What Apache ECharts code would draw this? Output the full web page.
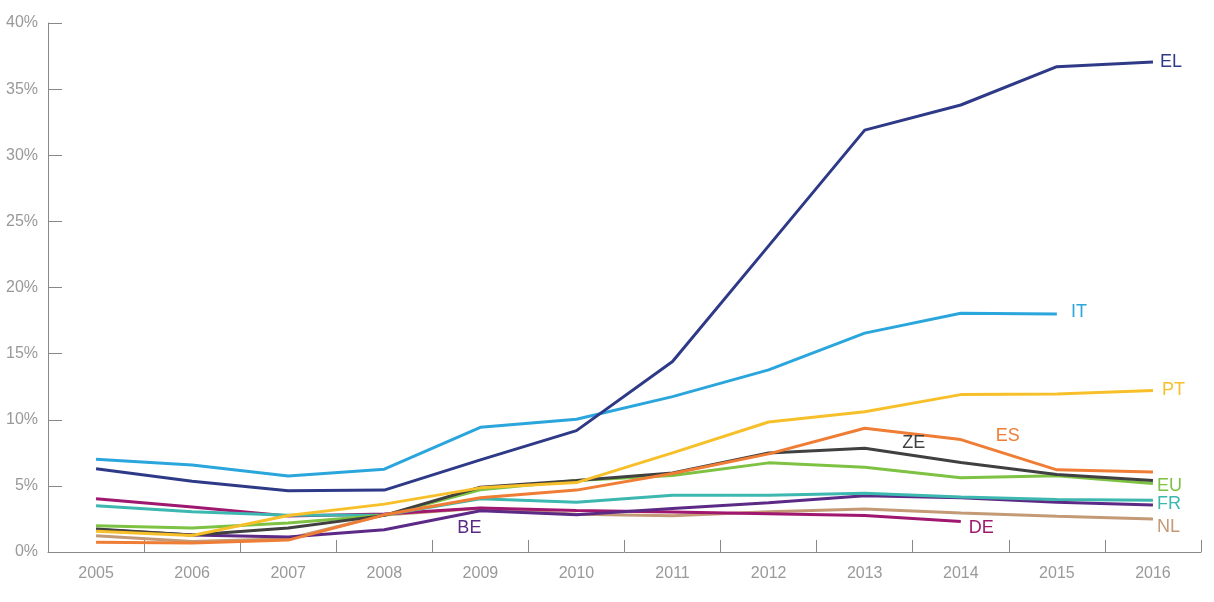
<!DOCTYPE html>
<html><head><meta charset="utf-8">
<script src="https://cdn.jsdelivr.net/npm/echarts@6/dist/echarts.min.js"></script>
<style>html,body{margin:0;padding:0;background:#fff}#c{width:1214px;height:602px}</style>
</head><body><div id="c"></div>
<script>
var years = ['2005','2006','2007','2008','2009','2010','2011','2012','2013','2014','2015','2016'];
var yTicks = [0,5,10,15,20,25,30,35,40];
var EL = [6.3,5.35,4.63,4.68,6.97,9.18,14.4,23.15,31.9,33.8,36.7,37.05];
var IT = [7.02,6.57,5.74,6.26,9.43,10.04,11.75,13.77,16.55,18.06,18.0,null];
var PT = [1.56,1.25,2.76,3.62,4.85,5.25,7.5,9.83,10.6,11.9,11.95,12.22];
var ES = [0.73,0.68,0.9,2.81,4.1,4.68,5.94,7.42,9.36,8.5,6.21,6.04];
var ZE = [1.73,1.28,1.81,2.77,4.9,5.4,5.98,7.49,7.85,6.76,5.86,5.4];
var EU = [1.98,1.81,2.19,2.77,4.7,5.4,5.78,6.74,6.41,5.61,5.76,5.18];
var FR = [3.49,3.04,2.77,2.8,4.02,3.77,4.3,4.3,4.45,4.15,3.97,3.92];
var BE = [1.7,1.28,1.13,1.68,3.12,2.81,3.29,3.72,4.25,4.1,3.77,3.55];
var DE = [4.02,3.4,2.72,2.87,3.32,3.14,3.02,2.89,2.76,2.31,null,null];
var NL = [1.23,0.8,1.0,2.8,3.3,2.85,2.75,3.05,3.25,2.95,2.7,2.5];

var FONT = 'Liberation Sans, Arial, sans-serif';
var seriesDefs = [
  {name:'NL', data:NL, color:'#c49a76', end:true, endOffset:[-4,8]},
  {name:'DE', data:DE, color:'#a0176f', end:true, endOffset:[0,7]},
  {name:'BE', data:BE, color:'#5c2a86', at:4, offset:[-11,17]},
  {name:'FR', data:FR, color:'#3cb8b0', end:true, endOffset:[-4,4]},
  {name:'EU', data:EU, color:'#7dc242', end:true, endOffset:[-4,3]},
  {name:'ZE', data:ZE, color:'#404040', at:8, offset:[49,-5]},
  {name:'ES', data:ES, color:'#ef7d35', at:9, offset:[47,-4]},
  {name:'PT', data:PT, color:'#f7c02a', end:true, endOffset:[1,0]},
  {name:'IT', data:IT, color:'#2aa6dc', end:true, endOffset:[6,-2]},
  {name:'EL', data:EL, color:'#2e3a87', end:true, endOffset:[-1,0]}
];

var series = seriesDefs.map(function(d){
  var s = {
    name:d.name, type:'line', data:d.data, showSymbol:false, symbol:'none',
    lineStyle:{color:d.color, width:3}, itemStyle:{color:d.color},
    connectNulls:false, animation:false, silent:true
  };
  if (d.end) {
    s.endLabel = {show:true, formatter:d.name, color:d.color, fontSize:18, offset:d.endOffset, fontFamily:FONT};
  }
  if (d.at !== undefined) {
    s.markPoint = {
      symbol:'circle', symbolSize:1, itemStyle:{color:'rgba(0,0,0,0)'}, silent:true, animation:false,
      data:[{coord:[years[d.at], d.data[d.at]],
        label:{show:true, formatter:d.name, position:'inside', offset:d.offset, color:d.color, fontSize:18, fontFamily:FONT}}]
    };
  }
  return s;
});

var chart = echarts.init(document.getElementById('c'));
chart.setOption({
  animation:false,
  grid:{left:48, right:13, top:23, bottom:50},
  xAxis:{type:'category', data:years, boundaryGap:true,
    axisLine:{lineStyle:{color:'#888', width:1}},
    axisTick:{show:true, inside:true, length:12, lineStyle:{color:'#888'}},
    axisLabel:{color:'#999', fontSize:16, margin:14, fontFamily:FONT},
    splitLine:{show:false}},
  yAxis:{type:'value', min:yTicks[0], max:yTicks[yTicks.length-1], interval:5,
    axisLine:{show:true, lineStyle:{color:'#888', width:1}},
    axisTick:{show:true, inside:true, length:14, lineStyle:{color:'#888'}},
    axisLabel:{color:'#999', fontSize:16, margin:10, formatter:'{value}%', fontFamily:FONT},
    splitLine:{show:false}},
  series:series
});
</script></body></html>
